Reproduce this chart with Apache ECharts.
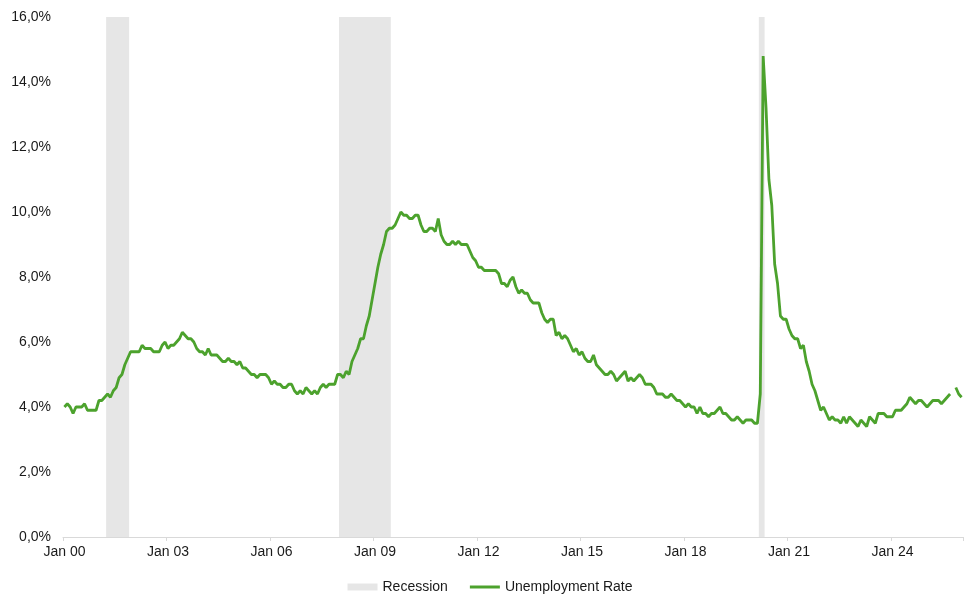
<!DOCTYPE html>
<html>
<head>
<meta charset="utf-8">
<script src="https://cdn.jsdelivr.net/npm/echarts@6/dist/echarts.min.js"></script>
<style>
html,body{margin:0;padding:0;background:#fff;}
#chart{width:980px;height:608px;}
</style>
</head>
<body>
<div id="chart"></div>
<script>
// Monthly US unemployment rate (%), Jan of first year through Dec
const years = ['00','01','02','03','04','05','06','07','08','09','10','11','12','13','14','15','16','17','18','19','20','21','22','23','24','25','26'];
const monthNames = ['Jan','Feb','Mar','Apr','May','Jun','Jul','Aug','Sep','Oct','Nov','Dec'];
const rate2000 = [4.0, 4.1, 4.0, 3.8, 4.0, 4.0, 4.0, 4.1, 3.9, 3.9, 3.9, 3.9];
const rate2001 = [4.2, 4.2, 4.3, 4.4, 4.3, 4.5, 4.6, 4.9, 5.0, 5.3, 5.5, 5.7];
const rate2002 = [5.7, 5.7, 5.7, 5.9, 5.8, 5.8, 5.8, 5.7, 5.7, 5.7, 5.9, 6.0];
const rate2003 = [5.8, 5.9, 5.9, 6.0, 6.1, 6.3, 6.2, 6.1, 6.1, 6.0, 5.8, 5.7];
const rate2004 = [5.7, 5.6, 5.8, 5.6, 5.6, 5.6, 5.5, 5.4, 5.4, 5.5, 5.4, 5.4];
const rate2005 = [5.3, 5.4, 5.2, 5.2, 5.1, 5.0, 5.0, 4.9, 5.0, 5.0, 5.0, 4.9];
const rate2006 = [4.7, 4.8, 4.7, 4.7, 4.6, 4.6, 4.7, 4.7, 4.5, 4.4, 4.5, 4.4];
const rate2007 = [4.6, 4.5, 4.4, 4.5, 4.4, 4.6, 4.7, 4.6, 4.7, 4.7, 4.7, 5.0];
const rate2008 = [5.0, 4.9, 5.1, 5.0, 5.4, 5.6, 5.8, 6.1, 6.1, 6.5, 6.8, 7.3];
const rate2009 = [7.8, 8.3, 8.7, 9.0, 9.4, 9.5, 9.5, 9.6, 9.8, 10.0, 9.9, 9.9];
const rate2010 = [9.8, 9.8, 9.9, 9.9, 9.6, 9.4, 9.4, 9.5, 9.5, 9.4, 9.8, 9.3];
const rate2011 = [9.1, 9.0, 9.0, 9.1, 9.0, 9.1, 9.0, 9.0, 9.0, 8.8, 8.6, 8.5];
const rate2012 = [8.3, 8.3, 8.2, 8.2, 8.2, 8.2, 8.2, 8.1, 7.8, 7.8, 7.7, 7.9];
const rate2013 = [8.0, 7.7, 7.5, 7.6, 7.5, 7.5, 7.3, 7.2, 7.2, 7.2, 6.9, 6.7];
const rate2014 = [6.6, 6.7, 6.7, 6.2, 6.3, 6.1, 6.2, 6.1, 5.9, 5.7, 5.8, 5.6];
const rate2015 = [5.7, 5.5, 5.4, 5.4, 5.6, 5.3, 5.2, 5.1, 5.0, 5.0, 5.1, 5.0];
const rate2016 = [4.8, 4.9, 5.0, 5.1, 4.8, 4.9, 4.8, 4.9, 5.0, 4.9, 4.7, 4.7];
const rate2017 = [4.7, 4.6, 4.4, 4.4, 4.4, 4.3, 4.3, 4.4, 4.3, 4.2, 4.2, 4.1];
const rate2018 = [4.0, 4.1, 4.0, 4.0, 3.8, 4.0, 3.8, 3.8, 3.7, 3.8, 3.8, 3.9];
const rate2019 = [4.0, 3.8, 3.8, 3.7, 3.6, 3.6, 3.7, 3.6, 3.5, 3.6, 3.6, 3.6];
const rate2020 = [3.5, 3.5, 4.4, 14.8, 13.2, 11.0, 10.2, 8.4, 7.8, 6.8, 6.7, 6.7];
const rate2021 = [6.4, 6.2, 6.1, 6.1, 5.8, 5.9, 5.4, 5.1, 4.7, 4.5, 4.2, 3.9];
const rate2022 = [4.0, 3.8, 3.6, 3.7, 3.6, 3.6, 3.5, 3.7, 3.5, 3.7, 3.6, 3.5];
const rate2023 = [3.4, 3.6, 3.5, 3.4, 3.7, 3.6, 3.5, 3.8, 3.8, 3.8, 3.7, 3.7];
const rate2024 = [3.7, 3.9, 3.9, 3.9, 4.0, 4.1, 4.3, 4.2, 4.1, 4.2, 4.2, 4.1];
const rate2025 = [4.0, 4.1, 4.2, 4.2, 4.2, 4.1, 4.2, 4.3, 4.4, null, 4.6, 4.4];
const rate2026 = [4.3];

// Recession periods (first and last month, inclusive)
const recessions = [
  ['Apr 01', 'Nov 01'],
  ['Jan 08', 'Jun 09'],
  ['Mar 20', 'Apr 20']
];

const yTicks = [0, 2, 4, 6, 8, 10, 12, 14, 16];

const rateByYear = [rate2000, rate2001, rate2002, rate2003, rate2004, rate2005, rate2006, rate2007, rate2008, rate2009, rate2010, rate2011, rate2012, rate2013, rate2014, rate2015, rate2016, rate2017, rate2018, rate2019, rate2020, rate2021, rate2022, rate2023, rate2024, rate2025, rate2026];

const categories = [];
const rates = [];
rateByYear.forEach((arr, yi) => {
  arr.forEach((v, mi) => {
    categories.push(monthNames[mi] + ' ' + years[yi]);
    rates.push(v);
  });
});

const yMin = yTicks[0], yMax = yTicks[yTicks.length - 1];
const recessionData = recessions.map(([a, b]) => [categories.indexOf(a), categories.indexOf(b)]);

const FONT = '"Liberation Sans", Arial, Helvetica, sans-serif';
const GREEN = '#4ca22d';
const GREY = '#e6e6e6';
const chart = echarts.init(document.getElementById('chart'), null, {renderer: 'canvas'});
chart.setOption({
  animation: false,
  backgroundColor: '#ffffff',
  textStyle: {fontFamily: FONT},
  grid: {left: 63, right: 17, top: 17, bottom: 71, containLabel: false},
  legend: {
    top: 575,
    left: 'center',
    itemWidth: 30,
    itemHeight: 7,
    itemGap: 22,
    textStyle: {fontFamily: FONT, fontSize: 14, color: '#1a1a1a'},
    data: [
      {name: 'Recession', icon: 'rect', itemStyle: {color: GREY}},
      {name: 'Unemployment Rate', icon: 'path://M0,0H30V3H0Z'}
    ]
  },
  xAxis: {
    type: 'category',
    data: categories,
    boundaryGap: true,
    axisLine: {show: true, lineStyle: {color: '#d9d9d9', width: 1}},
    axisTick: {show: true, length: 4, interval: 35, lineStyle: {color: '#d9d9d9'}},
    axisLabel: {
      interval: 35,
      margin: 8,
      fontFamily: FONT,
      fontSize: 14,
      color: '#1a1a1a'
    },
    splitLine: {show: false}
  },
  yAxis: {
    type: 'value',
    min: yMin,
    max: yMax,
    interval: 2,
    axisLine: {show: false},
    axisTick: {show: false},
    splitLine: {show: false},
    axisLabel: {
      margin: 12,
      fontFamily: FONT,
      fontSize: 14,
      color: '#1a1a1a',
      formatter: v => v.toFixed(1).replace('.', ',') + '%'
    }
  },
  series: [
    {
      name: 'Recession',
      type: 'custom',
      data: recessionData,
      encode: {x: [0, 1]},
      itemStyle: {color: GREY},
      emphasis: {disabled: true},
      z: 1,
      renderItem: function (params, api) {
        const s = api.value(0), e = api.value(1);
        const band = api.size([1, 0])[0];
        const p0 = api.coord([s, yMax]);
        const p1 = api.coord([e, yMin]);
        return {
          type: 'rect',
          shape: {x: p0[0] - band / 2, y: p0[1], width: p1[0] - p0[0] + band, height: p1[1] - p0[1]},
          style: {fill: GREY}
        };
      }
    },
    {
      name: 'Unemployment Rate',
      type: 'line',
      data: rates,
      symbol: 'none',
      showSymbol: false,
      connectNulls: false,
      lineStyle: {color: GREEN, width: 2.8},
      itemStyle: {color: GREEN},
      emphasis: {disabled: true},
      z: 3
    }
  ]
});
</script>
</body>
</html>
